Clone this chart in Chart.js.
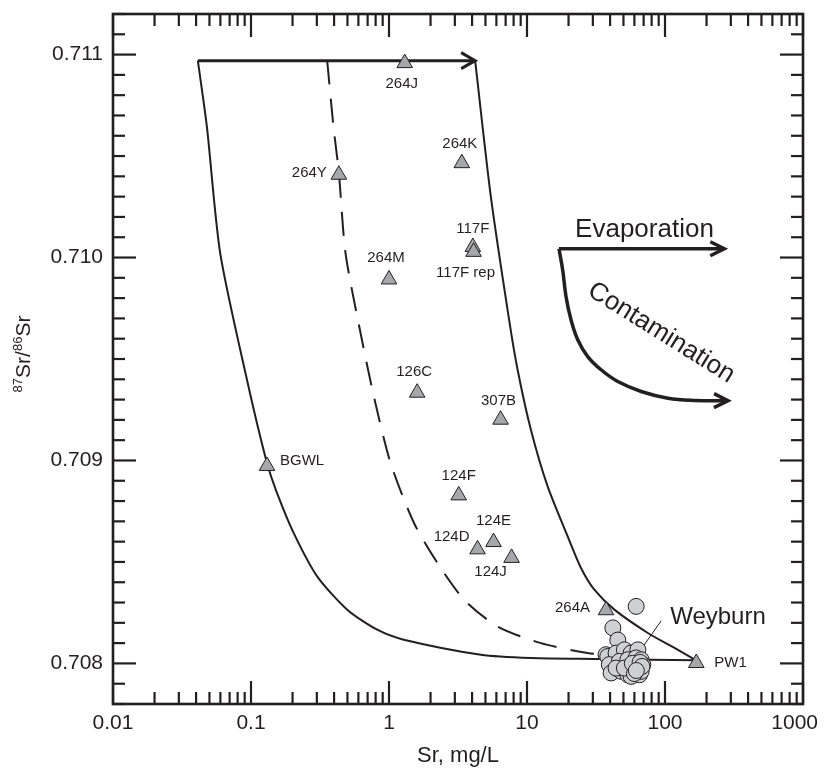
<!DOCTYPE html>
<html>
<head>
<meta charset="utf-8">
<script src="https://cdn.jsdelivr.net/npm/chart.js@4.4.1/dist/chart.umd.min.js"></script>
<style>
  body { margin: 0; background: #fff; }
  #wrap { width: 824px; height: 770px; }
</style>
</head>
<body>
<div id="wrap"><canvas id="srChart" width="824" height="770"></canvas></div>
<script>
// ========================
// DATA
// ========================
// groundwater / soil water samples (triangles)
const sampleNames = ["264J", "264Y", "264K", "117F", "117F rep", "264M", "126C", "307B",
                     "124F", "124E", "124D", "124J", "264A", "PW1", "BGWL"];
const sampleSr = [1.3, 0.433, 3.37, 4.05, 4.1, 1.0, 1.6, 6.43, 3.2, 5.72, 4.38, 7.73, 37.4, 168.6, 0.1306];
const sampleRatio = [0.710958, 0.710408, 0.710465, 0.710052, 0.710028, 0.709892, 0.709334, 0.709201,
                     0.708828, 0.708598, 0.708562, 0.70852, 0.708262, 0.708002, 0.708973];

// Weyburn produced waters (circles)
const weyburnSr = [61.8, 41.9, 45.5, 37.4, 38.5, 44.2, 50.8, 56.8, 63.6, 39.5, 46.7, 53.8, 61.8, 67.2, 40.7,
                   48.1, 53.8, 56.8, 63.6, 65.3, 69.1, 44.2, 50.8, 67.2, 60.0, 58.0, 66.0, 68.0, 62.0];
const weyburnRatio = [0.708281, 0.708175, 0.708115, 0.708043, 0.708034, 0.708051, 0.708067, 0.708051, 0.708067,
                      0.707994, 0.70801, 0.708018, 0.708027, 0.708018, 0.707953, 0.707961, 0.707944, 0.707936,
                      0.707977, 0.707944, 0.707994, 0.707977, 0.707977, 0.707961, 0.70795, 0.708, 0.708005,
                      0.707985, 0.707965];

// mixing envelopes
const leftCurveSr = [0.0412, 0.0479, 0.0598, 0.0935, 0.1306, 0.1545, 0.204, 0.3015, 0.498, 0.822, 1.28, 4.63, 10.67, 34.4, 168];
const leftCurveRatio = [0.71097, 0.710645, 0.710022, 0.709398, 0.708987, 0.708839, 0.708642, 0.708429,
                        0.708265, 0.708166, 0.708117, 0.708043, 0.708027, 0.708022, 0.708015];
const rightCurveSr = [4.21, 5.47, 7.42, 8.55, 10.67, 14.11, 19.71, 24.62, 30.76, 42.96, 75.1, 117.2, 168];
const rightCurveRatio = [0.71097, 0.7103, 0.709693, 0.709447, 0.709151, 0.708872, 0.708626, 0.70847,
                         0.708363, 0.708265, 0.70815, 0.708076, 0.708015];
const dashCurveSr = [0.3565, 0.396, 0.433, 0.484, 0.622, 0.777, 1.027, 1.517, 2.243, 3.5, 6.12, 12.6, 27.5, 48.1];
const dashCurveRatio = [0.71097, 0.710645, 0.710419, 0.710022, 0.709628, 0.709315, 0.708987, 0.708692,
                        0.708495, 0.708314, 0.708182, 0.7081, 0.708051, 0.708038];

// arrows
const topArrowSr = [0.0412, 4.21];
const topArrowRatio = [0.71097, 0.71097];
const evapArrowSr = [17.05, 269];
const evapArrowRatio = [0.710043, 0.710043];
const contamArrowSr = [17.05, 18.14, 19.17, 20.84, 23.31, 27.55, 34.41, 45.5, 67.2, 105, 163.8, 286];
const contamArrowRatio = [0.710043, 0.709939, 0.709808, 0.709693, 0.709595, 0.709512, 0.709447, 0.709389,
                          0.70934, 0.709307, 0.709296, 0.709294];
const leaderSr = [93.9, 68.3];
const leaderRatio = [0.70821, 0.708077];

// axes
const xTicks = [0.01, 0.1, 1, 10, 100, 1000];
const xTickLabels = ["0.01", "0.1", "1", "10", "100", "1000"];
const yTicks = [0.708, 0.709, 0.710, 0.711];
const yTickLabels = ["0.708", "0.709", "0.710", "0.711"];

// ========================
// STYLE / LAYOUT
// ========================
const INK = "#231f20";
const FONT = '"Liberation Sans", Arial, Helvetica, sans-serif';

// label offsets from the point, px: [dx, dy, align]
const labelPos = [
  [-3, 21, "center"], [-12, -2, "right"], [-2, -19, "center"], [0, -18, "center"], [-8, 21, "center"],
  [-3, -22, "center"], [-3, -21, "center"], [-2, -19, "center"], [0, -20, "center"], [0, -21, "center"],
  [-8, -12, "right"], [-21, 14, "center"], [-16, -2, "right"], [18, 0, "left"], [13, -5, "left"]
];

// free text, anchored in data space
const notes = [
  { text: "Evaporation", x: 71.0, y: 0.710102, size: 26, rot: 0, base: "alphabetic" },
  { text: "Contamination", x: 93.9, y: 0.709629, size: 26, rot: 32, base: "middle" },
  { text: "Weyburn", x: 242, y: 0.708225, size: 24, rot: 0, base: "middle" }
];

const pts = (xs, ys) => xs.map((x, i) => ({ x, y: ys[i] }));

function lineSet(xs, ys, width, extra) {
  return Object.assign({
    data: pts(xs, ys),
    showLine: true,
    borderColor: INK,
    borderWidth: width,
    pointRadius: 0,
    tension: 0.25,
    fill: false
  }, extra || {});
}

// ========================
// PLUGIN: frame, inward ticks, text
// ========================
const frame = {
  id: "frame",
  afterDraw(chart) {
    const { ctx, chartArea: a, scales: { x, y } } = chart;
    const seg = (x1, y1, x2, y2) => { ctx.beginPath(); ctx.moveTo(x1, y1); ctx.lineTo(x2, y2); ctx.stroke(); };
    ctx.save();
    ctx.strokeStyle = INK;
    ctx.fillStyle = INK;
    ctx.lineCap = "butt";

    // arrow heads
    chart.data.datasets.forEach((ds, i) => {
      if (!ds.arrow) return;
      const el = chart.getDatasetMeta(i).data;
      const p1 = el[el.length - 2], p2 = el[el.length - 1];
      const ang = Math.atan2(p2.y - p1.y, p2.x - p1.x);
      const back = 14, half = ds.arrow;
      ctx.lineWidth = ds.borderWidth;
      ctx.lineJoin = "miter";
      ctx.beginPath();
      ctx.moveTo(p2.x - Math.cos(ang) * back + Math.sin(ang) * half, p2.y - Math.sin(ang) * back - Math.cos(ang) * half);
      ctx.lineTo(p2.x, p2.y);
      ctx.lineTo(p2.x - Math.cos(ang) * back - Math.sin(ang) * half, p2.y - Math.sin(ang) * back + Math.cos(ang) * half);
      ctx.stroke();
    });

    // ticks
    ctx.lineWidth = 2.2;
    for (const base of xTicks) {
      for (let m = 1; m <= 9; m++) {
        const v = base * m;
        if (v > 1000 * 1.0001) break;
        const px = x.getPixelForValue(v);
        const len = m === 1 ? 23 : 12;
        seg(px, a.bottom, px, a.bottom - len);
        seg(px, a.top, px, a.top + len);
      }
    }
    for (let k = 7078; k <= 7112; k++) {
      const py = y.getPixelForValue(k / 10000);
      const len = k % 10 === 0 ? 23 : 12;
      seg(a.left, py, a.left + len, py);
      seg(a.right, py, a.right - len, py);
    }
    ctx.lineWidth = 2.6;
    ctx.strokeRect(a.left, a.top, a.right - a.left, a.bottom - a.top);

    // tick labels
    ctx.font = "21px " + FONT;
    ctx.textBaseline = "middle";
    ctx.textAlign = "right";
    yTicks.forEach((v, i) => ctx.fillText(yTickLabels[i], a.left - 10, y.getPixelForValue(v)));
    ctx.textAlign = "center";
    xTicks.forEach((v, i) => {
      const w = ctx.measureText(xTickLabels[i]).width;
      const px = Math.min(x.getPixelForValue(v), chart.width - w / 2 - 6);
      ctx.fillText(xTickLabels[i], px, a.bottom + 19);
    });

    // axis titles
    ctx.font = "22px " + FONT;
    ctx.textBaseline = "alphabetic";
    ctx.fillText("Sr, mg/L", (a.left + a.right) / 2, 762);

    ctx.save();
    ctx.translate(30, 354);
    ctx.rotate(-Math.PI / 2);
    const parts = [["87", 13, -8], ["Sr/", 21, 0], ["86", 13, -8], ["Sr", 21, 0]];
    let total = 0;
    parts.forEach(p => { ctx.font = p[1] + "px " + FONT; total += ctx.measureText(p[0]).width; });
    let cx = -total / 2;
    ctx.textAlign = "left";
    parts.forEach(p => {
      ctx.font = p[1] + "px " + FONT;
      ctx.fillText(p[0], cx, p[2]);
      cx += ctx.measureText(p[0]).width;
    });
    ctx.restore();

    // sample labels
    ctx.font = "15px " + FONT;
    ctx.textBaseline = "middle";
    const tri = chart.getDatasetMeta(1).data;
    sampleNames.forEach((name, i) => {
      const [dx, dy, align] = labelPos[i];
      ctx.textAlign = align;
      ctx.fillText(name, tri[i].x + dx, tri[i].y + dy);
    });

    // notes
    notes.forEach(n => {
      ctx.save();
      ctx.translate(x.getPixelForValue(n.x), y.getPixelForValue(n.y));
      ctx.rotate(n.rot * Math.PI / 180);
      ctx.font = n.size + "px " + FONT;
      ctx.textAlign = "center";
      ctx.textBaseline = n.base;
      ctx.fillText(n.text, 0, 0);
      ctx.restore();
    });

    ctx.restore();
  }
};

// ========================
// CHART
// ========================
const ctx = document.getElementById("srChart").getContext("2d");

new Chart(ctx, {
  type: "scatter",
  data: {
    datasets: [
      {
        label: "Weyburn",
        data: pts(weyburnSr, weyburnRatio),
        pointStyle: "circle",
        pointRadius: 8,
        backgroundColor: "#cfd0d2",
        borderColor: INK,
        borderWidth: 1
      },
      {
        label: "Samples",
        data: pts(sampleSr, sampleRatio),
        pointStyle: "triangle",
        pointRadius: 9,
        backgroundColor: "#a5a7aa",
        borderColor: INK,
        borderWidth: 1
      },
      lineSet(leaderSr, leaderRatio, 1, { tension: 0 }),
      lineSet(leftCurveSr, leftCurveRatio, 2),
      lineSet(rightCurveSr, rightCurveRatio, 2),
      lineSet(dashCurveSr, dashCurveRatio, 2, { borderDash: [24, 14] }),
      lineSet(topArrowSr, topArrowRatio, 3, { tension: 0, arrow: 8 }),
      lineSet(evapArrowSr, evapArrowRatio, 3.5, { tension: 0, arrow: 7 }),
      lineSet(contamArrowSr, contamArrowRatio, 3.5, { tension: 0.4, arrow: 7 })
    ]
  },
  options: {
    responsive: false,
    maintainAspectRatio: false,
    animation: false,
    layout: { padding: { top: 14, right: 21, left: 0, bottom: 0 } },
    plugins: {
      legend: { display: false },
      tooltip: { enabled: false }
    },
    scales: {
      x: {
        type: "logarithmic",
        min: 0.01,
        max: 1000,
        grid: { display: false },
        border: { display: false },
        ticks: { display: false },
        afterFit: s => { s.height = 66; s.paddingLeft = 0; s.paddingRight = 0; }
      },
      y: {
        type: "linear",
        min: 0.7078,
        max: 0.7112,
        grid: { display: false },
        border: { display: false },
        ticks: { display: false },
        afterFit: s => { s.width = 113; s.paddingTop = 0; s.paddingBottom = 0; }
      }
    }
  },
  plugins: [frame]
});
</script>
</body>
</html>
